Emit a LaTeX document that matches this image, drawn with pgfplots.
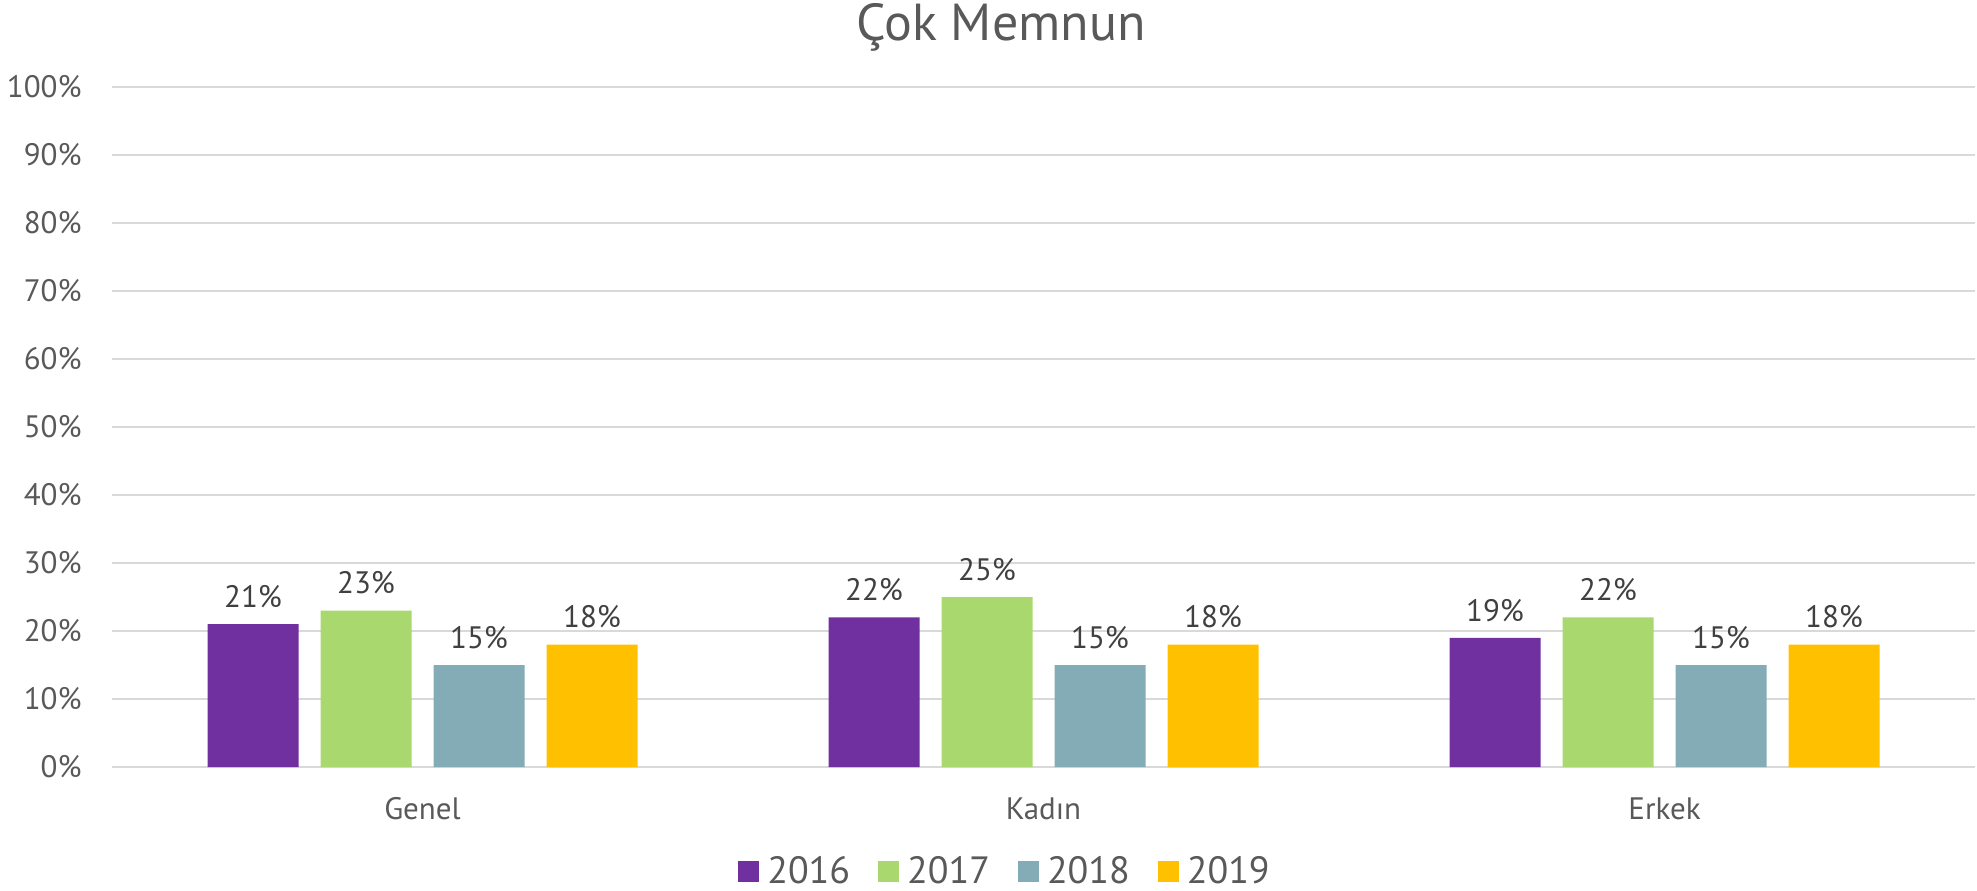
\documentclass[border=0pt]{standalone}
\usepackage{pgfplots}
\pgfplotsset{compat=1.18}
\usepackage{fontspec}
\setmainfont{PT Sans}
\definecolor{c16}{HTML}{7030A0}
\definecolor{c17}{HTML}{A9D86E}
\definecolor{c18}{HTML}{84ACB6}
\definecolor{c19}{HTML}{FFC000}
\definecolor{txt}{HTML}{595959}
\definecolor{lbl}{HTML}{404040}
\definecolor{grd}{HTML}{D9D9D9}
\begin{document}
\begin{tikzpicture}
\begin{axis}[
  at={(0,0)}, anchor=south west,
  scale only axis, width=931.5pt, height=340pt,
  xmin=-0.5, xmax=2.5, ymin=0, ymax=100,
  ybar=11pt, bar width=45.5pt,
  xtick={0,1,2}, xticklabels={Genel,Kadın,Erkek},
  ytick={0,10,...,100},
  yticklabel={\pgfmathprintnumber{\tick}\%},
  /pgf/number format/assume math mode=true,
  axis line style={draw=none}, major tick length=0pt,
  ymajorgrids, major grid style={grd, line width=1pt},
  yticklabel style={font=\fontsize{15.5}{17}\selectfont, text=txt, inner sep=0pt, anchor=east, xshift=-15pt},
  xticklabel style={font=\fontsize{15.5}{17}\selectfont, text=txt, inner sep=0pt, anchor=north, yshift=-15pt},
  title={Çok Memnun},
  title style={font=\fontsize{26}{28}\selectfont, text=txt, inner sep=0pt, at={(0,1)}, anchor=base, xshift=444.5pt, yshift=17pt},
  nodes near coords={\pgfmathprintnumber{\pgfplotspointmeta}\%},
  every node near coord/.append style={font=\fontsize{15.5}{17}\selectfont, text=lbl, inner sep=0pt, anchor=south, yshift=8pt},
  legend columns=4,
  legend style={at={(0,0)}, anchor=center, xshift=446.5pt, yshift=-52pt, draw=none, fill=none, inner sep=0pt,
    font=\fontsize{19}{20}\selectfont, text=txt,
    nodes={inner sep=1pt},
    /tikz/every even column/.append style={column sep=13pt},
    /tikz/every odd column/.append style={column sep=3pt}},
  legend image code/.code={\fill[#1] (0pt,-5.25pt) rectangle (10.5pt,5.25pt);},
]
\addplot[fill=c16, draw=none] coordinates {(0,21) (1,22) (2,19)};
\addplot[fill=c17, draw=none] coordinates {(0,23) (1,25) (2,22)};
\addplot[fill=c18, draw=none] coordinates {(0,15) (1,15) (2,15)};
\addplot[fill=c19, draw=none] coordinates {(0,18) (1,18) (2,18)};
\legend{2016,2017,2018,2019}
\end{axis}
\pgfresetboundingbox
\path[use as bounding box] (-56pt,-61.5pt) rectangle (932.5pt,383.5pt);
\end{tikzpicture}
\end{document}
